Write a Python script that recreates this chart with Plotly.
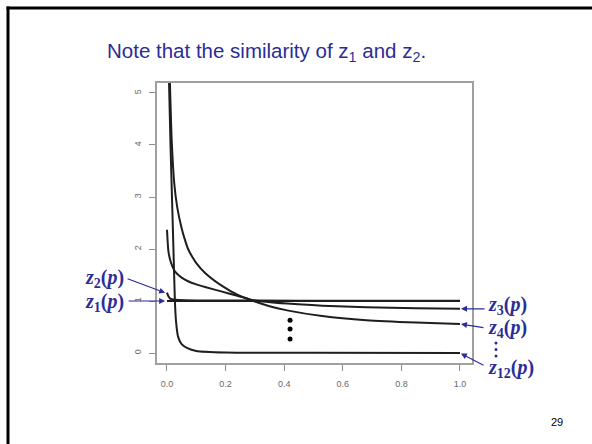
import plotly.graph_objects as go

# ---- data ----
p_z1 = [0.0, 1.0]
v_z1 = [1.0, 1.0]

p_z2 = [0.0, 0.004, 0.01, 0.02, 0.04, 0.1, 0.3, 0.6, 1.0]
v_z2 = [1.16, 1.10, 1.05, 1.03, 1.02, 1.012, 1.008, 1.005, 1.004]

p_z3 = [0.0, 0.005, 0.014, 0.027, 0.05, 0.072, 0.1, 0.13, 0.188, 0.24, 0.3, 0.41, 0.53, 0.68, 0.85, 1.0]
v_z3 = [2.37, 1.95, 1.73, 1.57, 1.45, 1.38, 1.32, 1.27, 1.18, 1.10, 1.01, 0.95, 0.91, 0.88, 0.86, 0.85]

p_z4 = [0.01, 0.016, 0.025, 0.035, 0.05, 0.06, 0.072, 0.085, 0.1, 0.13, 0.188, 0.24, 0.3, 0.35, 0.41, 0.53, 0.68, 0.85, 1.0]
v_z4 = [5.2, 4.1, 3.25, 2.8, 2.4, 2.2, 2.0, 1.86, 1.73, 1.54, 1.29, 1.12, 0.99, 0.90, 0.82, 0.71, 0.63, 0.585, 0.56]

p_z12 = [0.007, 0.012, 0.017, 0.022, 0.027, 0.031, 0.038, 0.05, 0.068, 0.1, 0.2, 0.5, 1.0]
v_z12 = [5.19, 4.0, 3.0, 2.0, 1.0, 0.6, 0.31, 0.17, 0.10, 0.04, 0.01, 0.003, 0.0]

dots_x = [0.42, 0.42, 0.42]
dots_y = [0.63, 0.46, 0.27]

x_ticks = [0.0, 0.2, 0.4, 0.6, 0.8, 1.0]
x_ticktext = ["0.0", "0.2", "0.4", "0.6", "0.8", "1.0"]
y_ticks = [0, 1, 2, 3, 4, 5]
y_ticktext = ["0", "1", "2", "3", "4", "5"]

title_text = "Note that the similarity of z<sub>1</sub> and z<sub>2</sub>."
page_no = "29"

# ---- layout helpers ----
W, H = 592, 444
L, R, T, B = 157, 472, 83, 363
PW, PH = R - L, B - T


def px(x):
    return (x - L) / PW


def py(y):
    return (B - y) / PH


BLUE = "#2b2d96"
LINE = "#1e1e1e"

fig = go.Figure()
for xs, ys in [(p_z1, v_z1), (p_z2, v_z2), (p_z3, v_z3), (p_z4, v_z4), (p_z12, v_z12)]:
    fig.add_trace(go.Scatter(x=xs, y=ys, mode="lines",
                             line=dict(color=LINE, width=2, shape="spline", smoothing=0.6),
                             hoverinfo="skip", showlegend=False))

fig.add_trace(go.Scatter(x=dots_x, y=dots_y, mode="markers",
                         marker=dict(color="black", size=5), showlegend=False, hoverinfo="skip"))

axis_common = dict(showline=True, mirror=True, linecolor="#a0a0a0", linewidth=1.5,
                   ticks="outside", ticklen=6, tickcolor="#8a8a8a", tickwidth=1,
                   showgrid=False, zeroline=False,
                   tickfont=dict(family="Liberation Sans", size=9, color="#6a6a6a"),
                   ticklabelstandoff=5)

fig.update_layout(
    width=W, height=H,
    margin=dict(l=L, r=W - R, t=T, b=H - B),
    paper_bgcolor="white", plot_bgcolor="white",
    xaxis=dict(range=[-0.0341, 1.041], tickvals=x_ticks, ticktext=x_ticktext, **axis_common),
    yaxis=dict(range=[-0.192, 5.192], tickvals=y_ticks, ticktext=y_ticktext, tickangle=-90,
               **axis_common),
)

ann = []
# title
ann.append(dict(xref="paper", yref="paper", x=px(266), y=py(52), text=title_text,
                showarrow=False, xanchor="center", yanchor="middle",
                font=dict(family="Liberation Sans", size=20.5, color=BLUE)))
# page number
ann.append(dict(xref="paper", yref="paper", x=px(557), y=py(422), text=page_no,
                showarrow=False, xanchor="center", yanchor="middle",
                font=dict(family="Liberation Sans", size=11, color="black")))

lab_font = dict(family="Liberation Serif", size=20, color=BLUE)


def lab(sub):
    return "<b><i>z</i></b><sub><b>" + sub + "</b></sub><b>(<i>p</i>)</b>"


# right labels
ann.append(dict(xref="paper", yref="paper", x=px(486), y=py(305), text=lab("3"),
                showarrow=False, xanchor="left", yanchor="middle", font=lab_font))
ann.append(dict(xref="paper", yref="paper", x=px(486), y=py(328), text=lab("4"),
                showarrow=False, xanchor="left", yanchor="middle", font=lab_font))
ann.append(dict(xref="paper", yref="paper", x=px(486), y=py(368), text=lab("12"),
                showarrow=False, xanchor="left", yanchor="middle", font=lab_font))
# left labels
ann.append(dict(xref="paper", yref="paper", x=px(126), y=py(278), text=lab("2"),
                showarrow=False, xanchor="right", yanchor="middle", font=lab_font))
ann.append(dict(xref="paper", yref="paper", x=px(126), y=py(302), text=lab("1"),
                showarrow=False, xanchor="right", yanchor="middle", font=lab_font))

# arrows (head at data point, tail offset in pixels)
arrows = [
    (1.0, 0.85, 26, 0),
    (1.0, 0.56, 25, 4),
    (1.0, 0.0, 25, 13),
    (-0.003, 1.15, -40, -15),
    (-0.003, 1.0, -39, 0),
]
for x, y, ax, ay in arrows:
    ann.append(dict(x=x, y=y, xref="x", yref="y", ax=ax, ay=ay, text="",
                    showarrow=True, arrowhead=2, arrowsize=1, arrowwidth=1.2,
                    arrowcolor=BLUE, standoff=1))

fig.update_layout(annotations=ann)

shapes = []
# slide border (left and top edges visible)
shapes.append(dict(type="line", xref="paper", yref="paper", x0=px(8), x1=px(8),
                   y0=py(6.5), y1=py(460), line=dict(color="black", width=3)))
shapes.append(dict(type="line", xref="paper", yref="paper", x0=px(6.5), x1=px(610),
                   y0=py(8), y1=py(8), line=dict(color="black", width=3)))
# vertical dots on the right
for yy in [343, 349.5, 356]:
    shapes.append(dict(type="circle", xref="paper", yref="paper",
                       x0=px(494.5), x1=px(497.5), y0=py(yy + 1.5), y1=py(yy - 1.5),
                       fillcolor=BLUE, line=dict(width=0)))
fig.update_layout(shapes=shapes)

fig.write_html("out.html")
